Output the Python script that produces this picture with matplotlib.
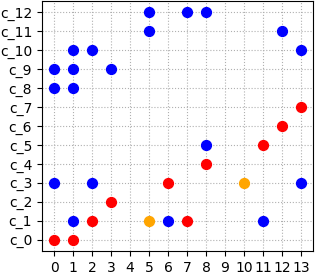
import numpy as np
import matplotlib
matplotlib.use('Agg')
import matplotlib.pyplot as plt

categories = ['c_{}'.format(i) for i in range(13)]

# (x, category index) per colour group
blue_x = [5, 7, 8, 5, 12, 1, 2, 13, 0, 1, 3, 0, 1, 8, 0, 2, 13, 1, 6, 11]
blue_y = [12, 12, 12, 11, 11, 10, 10, 10, 9, 9, 9, 8, 8, 5, 3, 3, 3, 1, 1, 1]
red_x = [13, 12, 11, 8, 6, 3, 2, 7, 0, 1]
red_y = [7, 6, 5, 4, 3, 2, 1, 1, 0, 0]
orange_x = [10, 5]
orange_y = [3, 1]

fig = plt.figure(figsize=(3.15, 2.72), dpi=100)
ax = fig.add_axes([0.133, 0.077, 0.861, 0.919])

ax.scatter(blue_x, blue_y, color='blue', s=50, zorder=3)
ax.scatter(red_x, red_y, color='red', s=50, zorder=3)
ax.scatter(orange_x, orange_y, color='orange', s=50, zorder=3)

ax.set_xticks(range(14))
ax.set_yticks(range(len(categories)))
ax.set_yticklabels(categories)
ax.set_xlim(-0.65, 13.65)
ax.set_ylim(-0.6, 12.6)
ax.grid(True, linestyle=':', color='#b0b0b0', linewidth=0.8)
ax.set_axisbelow(True)

fig.savefig('out.png', dpi=100)
